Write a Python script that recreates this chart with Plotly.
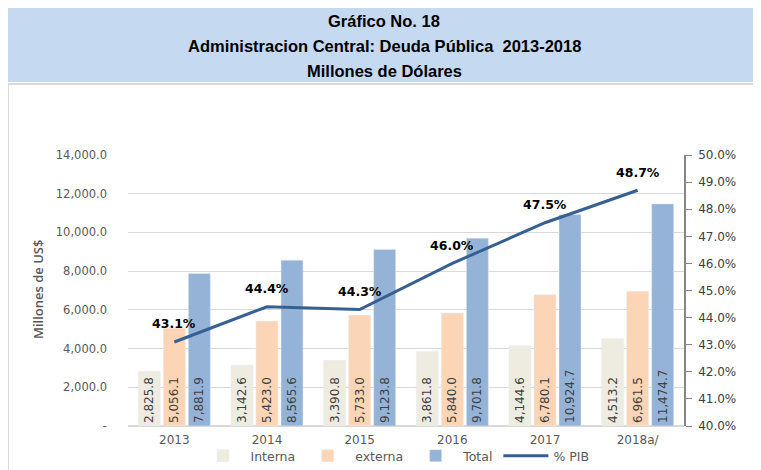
import plotly.graph_objects as go

# datos del gráfico
anios = ["2013", "2014", "2015", "2016", "2017", "2018a/"]
interna = [2825.8, 3142.6, 3390.8, 3861.8, 4144.6, 4513.2]
externa = [5056.1, 5423.0, 5733.0, 5840.0, 6780.1, 6961.5]
total = [7881.9, 8565.6, 9123.8, 9701.8, 10924.7, 11474.7]
pct_pib = [43.1, 44.4, 44.3, 46.0, 47.5, 48.7]

titulos = ["Gráfico No. 18",
           "Administracion Central: Deuda Pública  2013-2018",
           "Millones de Dólares"]

y_ticks = [0, 2000, 4000, 6000, 8000, 10000, 12000, 14000]
y_ticktext = ["-" if v == 0 else f"{v:,.1f}" for v in y_ticks]

# geometría en píxeles de la ventana; el body tiene 8px de margen
OFF = 8
W, H = 761, 470
L, R, T, B = 128, 684, 155, 426


def px(x):
    return (x - L) / (R - L)


def py(y):
    return (B - y) / (B - T)


fnt = "DejaVu Sans, Verdana, sans-serif"
gris = "#595959"


def fmt(v):
    return f"{v:,.1f}"


fig = go.Figure()

for nombre, valores, color in [("Interna", interna, "#eeece1"),
                               ("externa", externa, "#fbd5b5"),
                               ("Total", total, "#95b3d7")]:
    fig.add_trace(go.Bar(
        x=anios, y=valores, name=nombre, marker_color=color,
        text=[fmt(v) for v in valores], textposition="inside",
        insidetextanchor="start", textangle=-90, constraintext="none",
        textfont=dict(family=fnt, size=12, color="#404040"),
    ))

fig.add_trace(go.Scatter(
    x=anios, y=pct_pib, name="% PIB", yaxis="y2", mode="lines",
    line=dict(color="#376092", width=3),
))

shapes = [
    # marco gris
    dict(type="rect", xref="paper", yref="paper",
         x0=px(8), x1=px(775), y0=py(490), y1=py(84),
         line=dict(color="#d0d0d0", width=1.5), fillcolor="rgba(0,0,0,0)", layer="below"),
    # banda del título
    dict(type="rect", xref="paper", yref="paper",
         x0=px(5), x1=px(775), y0=py(82), y1=py(8),
         line=dict(width=0), fillcolor="#c5d9f1", layer="below"),
]

annotations = []
for i, t in enumerate(titulos):
    annotations.append(dict(
        text=f"<b>{t}</b>", xref="paper", yref="paper",
        x=px(384), y=py(21 + 25 * i), xanchor="center", yanchor="middle",
        showarrow=False,
        font=dict(family="Liberation Sans Narrow, Arial Narrow, Liberation Sans", size=16.5, color="#000000"),
    ))

# etiquetas del % PIB (x como índice de categoría)
for i, v in enumerate(pct_pib):
    annotations.append(dict(
        text=f"<b>{v:.1f}%</b>", x=i, y=v, xref="x", yref="y2",
        showarrow=False, xanchor="center", yanchor="middle", yshift=18,
        font=dict(family="DejaVu Sans", size=12.5, color="#000000"),
    ))

annotations.append(dict(
    text="Millones de US$", xref="paper", yref="paper",
    x=px(38), y=py(290), textangle=-90, showarrow=False,
    xanchor="center", yanchor="middle",
    font=dict(family="Open Sans, DejaVu Sans", size=13, color=gris, weight=600),
))
annotations.append(dict(
    text="<b>% del PIB</b>", xref="paper", yref="paper",
    x=px(766), y=py(275), textangle=90, showarrow=False,
    xanchor="center", yanchor="middle",
    font=dict(family=fnt, size=12, color=gris),
))

fig.update_layout(
    width=W - OFF, height=H - OFF,
    margin=dict(l=L - OFF, r=W - R, t=T - OFF, b=H - B, autoexpand=False),
    paper_bgcolor="white", plot_bgcolor="white",
    barmode="group", bargap=0.19, bargroupgap=0.12,
    font=dict(family=fnt, size=11, color=gris),
    showlegend=True,
    legend=dict(orientation="h", x=px(395), xanchor="center", y=py(456), yanchor="middle",
                font=dict(family=fnt, size=12.5, color=gris), bgcolor="rgba(0,0,0,0)",
                traceorder="normal", itemwidth=45),
    xaxis=dict(type="category", range=[-0.5, len(anios) - 0.5],
               showgrid=False, showline=False, ticks="", ticklabelstandoff=5,
               tickfont=dict(family=fnt, size=12, color=gris)),
    yaxis=dict(range=[0, 14000], tickvals=y_ticks, ticktext=y_ticktext,
               showgrid=True, gridcolor="#d9d9d9", gridwidth=1,
               zeroline=True, zerolinecolor="#d9d9d9", showline=False,
               ticks="", ticklabelstandoff=20, tickfont=dict(family=fnt, size=11.5, color=gris)),
    yaxis2=dict(range=[40, 50], dtick=1, tickformat=".1f", ticksuffix="%",
                overlaying="y", side="right", showgrid=False, zeroline=False,
                showline=True, linecolor="#868686", linewidth=1.5,
                ticks="outside", ticklen=6, tickcolor="#868686", ticklabelstandoff=4,
                tickfont=dict(family=fnt, size=12, color="#404040")),
    shapes=shapes,
    annotations=annotations,
)

fig.write_html("out.html")
